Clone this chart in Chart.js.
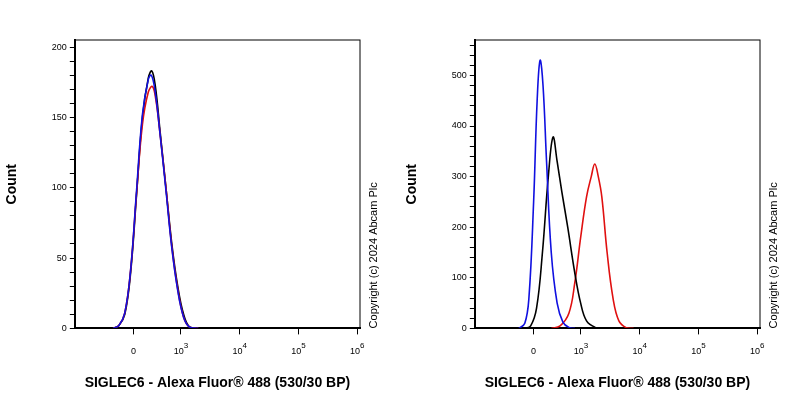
<!DOCTYPE html>
<html>
<head>
<script src="https://cdn.jsdelivr.net/npm/chart.js@4"></script>
<style>
body { margin: 0; background: #fff; }
.wrap { display: flex; width: 800px; height: 400px; }
.box { width: 400px; height: 400px; position: relative; }
</style>
</head>
<body>
<div class="wrap">
  <div class="box"><canvas id="c1"></canvas></div>
  <div class="box"><canvas id="c2"></canvas></div>
</div>
<script>
// x values are in display (biexponential) units: 2.2 = 0, 3 = 10^3, 4 = 10^4 ...
const tickPos = [2.2, 3, 4, 5, 6];
const tickBase = ['0', '10', '10', '10', '10'];
const tickExp = ['', '3', '4', '5', '6'];

const leftBlackX = [1.85, 1.95, 2.05, 2.15, 2.25, 2.35, 2.45, 2.51, 2.57, 2.65, 2.75, 2.85, 2.95, 3.05, 3.15, 3.3];
const leftBlackY = [0, 2, 10, 40, 95, 150, 178, 183, 172, 140, 100, 60, 30, 10, 1, 0];
const leftBlueX = [1.85, 1.95, 2.05, 2.15, 2.25, 2.35, 2.45, 2.5, 2.56, 2.65, 2.75, 2.85, 2.95, 3.05, 3.15, 3.3];
const leftBlueY = [0, 2, 11, 42, 98, 152, 177, 180, 170, 138, 98, 57, 27, 8, 1, 0];
const leftRedX = [1.85, 1.95, 2.05, 2.15, 2.25, 2.35, 2.45, 2.52, 2.58, 2.65, 2.75, 2.85, 2.95, 3.05, 3.15, 3.3];
const leftRedY = [0, 2, 11, 42, 96, 145, 168, 172, 162, 138, 100, 58, 28, 8, 1, 0];

const rightBlueX = [1.95, 2.05, 2.12, 2.2, 2.26, 2.31, 2.36, 2.42, 2.5, 2.6, 2.7, 2.8, 2.9];
const rightBlueY = [0, 10, 60, 250, 450, 530, 480, 330, 150, 50, 12, 2, 0];
const rightBlackX = [2.05, 2.15, 2.25, 2.35, 2.45, 2.53, 2.6, 2.68, 2.78, 2.9, 3.0, 3.1, 3.25, 3.4];
const rightBlackY = [0, 5, 40, 150, 300, 378, 330, 270, 200, 110, 50, 15, 2, 0];
const rightRedX = [2.5, 2.65, 2.8, 2.9, 3.0, 3.1, 3.18, 3.24, 3.3, 3.36, 3.45, 3.55, 3.65, 3.78, 3.9];
const rightRedY = [0, 5, 30, 90, 180, 260, 300, 325, 300, 260, 150, 60, 15, 1, 0];

function pts(xs, ys) {
    return xs.map((x, i) => ({ x: x, y: ys[i] }));
}

function line(xs, ys, color) {
    return { data: pts(xs, ys), borderColor: color, borderWidth: 1.6, pointRadius: 0, showLine: true, tension: 0.4, fill: false };
}

const frame = {
    id: 'frame',
    afterDraw(chart) {
        const { ctx, chartArea: a } = chart;
        const xs = chart.scales.x;
        ctx.save();
        ctx.strokeStyle = '#000';
        ctx.lineWidth = 1;
        ctx.strokeRect(a.left, a.top, a.right - a.left, a.bottom - a.top);
        ctx.fillStyle = '#000';
        // x tick labels with superscripts
        ctx.textBaseline = 'alphabetic';
        tickPos.forEach((v, i) => {
            const px = xs.getPixelForValue(v);
            ctx.font = '9px "Liberation Sans", Arial, sans-serif';
            ctx.textAlign = 'center';
            ctx.fillText(tickBase[i], px - (tickExp[i] ? 2 : 0), a.bottom + 26);
            if (tickExp[i]) {
                ctx.font = '8px "Liberation Sans", Arial, sans-serif';
                ctx.textAlign = 'left';
                ctx.fillText(tickExp[i], px + 3, a.bottom + 20);
            }
        });
        ctx.translate(a.right + 14, a.bottom);
        ctx.rotate(-Math.PI / 2);
        ctx.font = '11px "Liberation Sans", Arial, sans-serif';
        ctx.textAlign = 'left';
        ctx.textBaseline = 'middle';
        ctx.fillText('Copyright (c) 2024 Abcam Plc', 0, 0);
        ctx.restore();
    }
};

function makeChart(id, sets, yMax, yStep, yLabelStep) {
    new Chart(document.getElementById(id), {
        type: 'scatter',
        data: { datasets: sets },
        options: {
            responsive: false,
            animation: false,
            layout: { padding: { top: 40, right: 40, left: 0, bottom: 4 } },
            plugins: { legend: { display: false }, tooltip: { enabled: false } },
            scales: {
                x: {
                    type: 'linear', min: 1.2, max: 6.05,
                    afterBuildTicks: (s) => { s.ticks = tickPos.map(v => ({ value: v })); },
                    ticks: { color: '#000', font: { size: 9 }, padding: 10, callback: () => ' ' },
                    grid: { drawOnChartArea: false, color: '#000', tickLength: 6 },
                    border: { color: '#000', width: 2 },
                    title: { display: true, text: 'SIGLEC6 - Alexa Fluor® 488 (530/30 BP)', color: '#000',
                             font: { size: 14, weight: 'bold', family: 'Arial, "Liberation Sans", sans-serif' }, padding: { top: 10 } }
                },
                y: {
                    min: 0, max: yMax,
                    afterBuildTicks: (s) => {
                        const t = [];
                        for (let v = 0; v <= yMax; v += yStep) t.push({ value: v });
                        s.ticks = t;
                    },
                    ticks: {
                        color: '#000', font: { size: 9 }, autoSkip: false,
                        callback: (v) => (v % yLabelStep === 0 ? v : '')
                    },
                    grid: { drawOnChartArea: false, color: '#000', tickLength: 5 },
                    border: { color: '#000', width: 2 },
                    title: { display: true, text: 'Count', color: '#000',
                             font: { size: 14, weight: 'bold', family: 'Arial, "Liberation Sans", sans-serif' }, padding: { bottom: 28 } }
                }
            }
        },
        plugins: [frame]
    });
}

document.getElementById('c1').width = 400; document.getElementById('c1').height = 400;
document.getElementById('c2').width = 400; document.getElementById('c2').height = 400;

makeChart('c1', [
    line(leftBlueX, leftBlueY, '#1010e0'),
    line(leftRedX, leftRedY, '#e01010'),
    line(leftBlackX, leftBlackY, '#000000')
], 205, 10, 50);

makeChart('c2', [
    line(rightBlueX, rightBlueY, '#1010e0'),
    line(rightBlackX, rightBlackY, '#000000'),
    line(rightRedX, rightRedY, '#e01010')
], 570, 20, 100);
</script>
</body>
</html>
